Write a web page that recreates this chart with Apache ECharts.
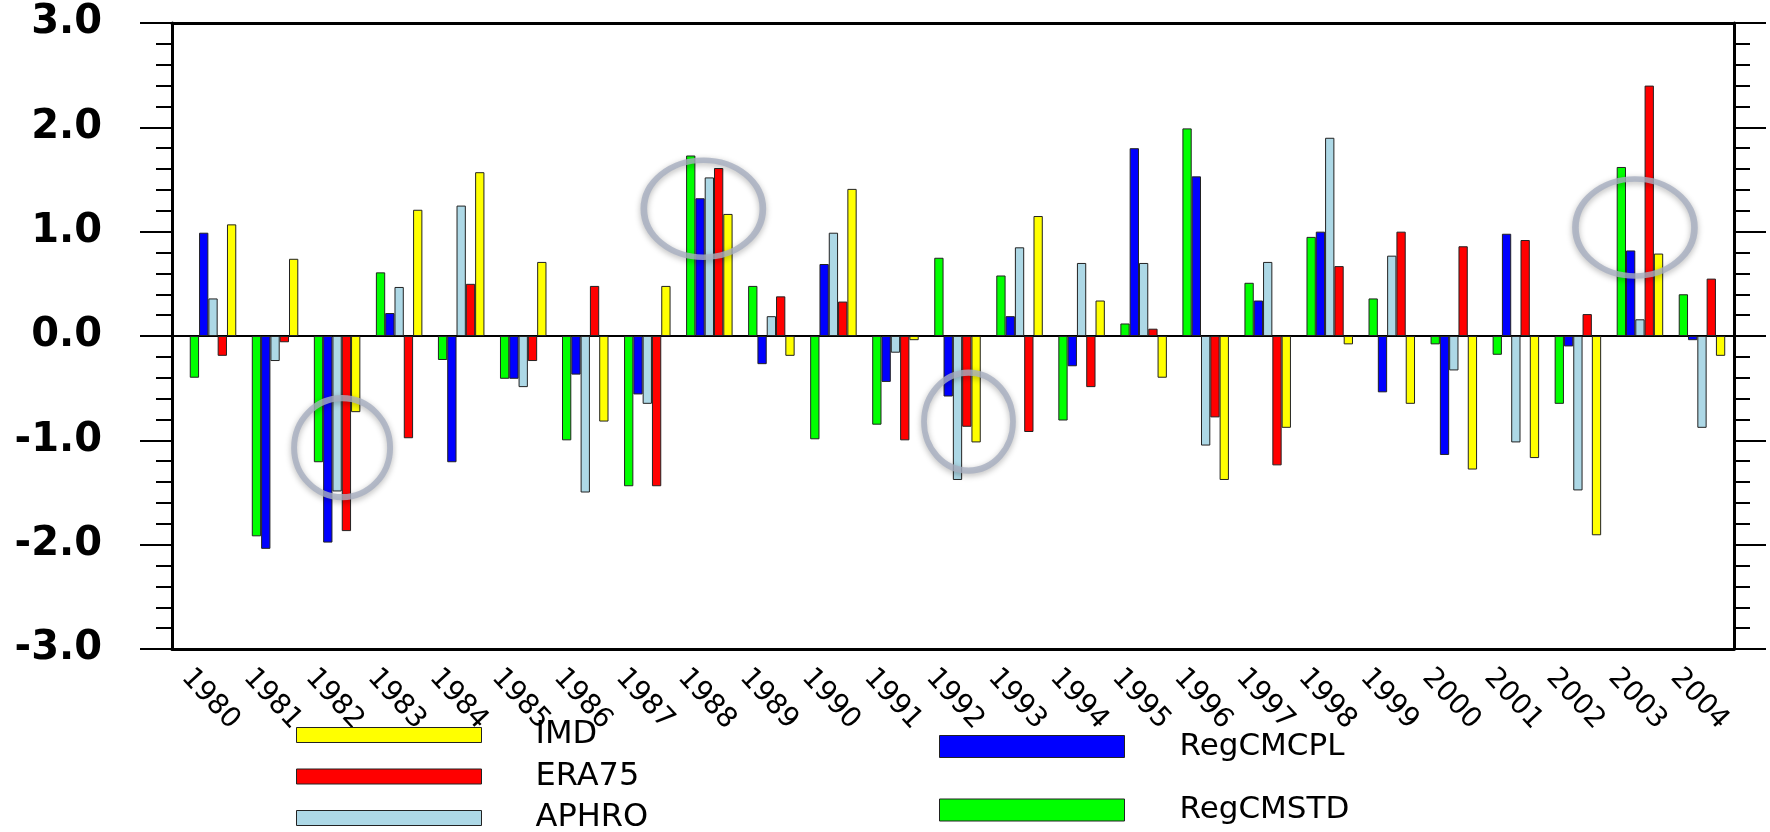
<!DOCTYPE html>
<html>
<head>
<meta charset="utf-8">
<script src="https://cdn.jsdelivr.net/npm/echarts@6/dist/echarts.min.js"></script>
<style>
  html, body { margin: 0; padding: 0; background: #fff; }
  #chart { width: 1770px; height: 832px; }
</style>
</head>
<body>
<div id="chart"></div>
<script>
// years on the category axis
const years = ['1980','1981','1982','1983','1984','1985','1986','1987','1988','1989',
  '1990','1991','1992','1993','1994','1995','1996','1997','1998','1999',
  '2000','2001','2002','2003','2004'];

// anomalies per data set
const regcmStd = [-0.40,-1.92,-1.21,0.61,-0.23,-0.41,-1.00,-1.44,1.73,0.48,
  -0.99,-0.85,0.75,0.58,-0.81,0.12,1.99,0.51,0.95,0.36,-0.08,-0.18,-0.65,1.62,0.40];
const regcmCpl = [0.99,-2.04,-1.98,0.22,-1.21,-0.41,-0.37,-0.56,1.32,-0.27,
  0.69,-0.44,-0.58,0.19,-0.29,1.80,1.53,0.34,1.00,-0.54,-1.14,0.98,-0.10,0.82,-0.04];
const aphro = [0.36,-0.24,-1.49,0.47,1.25,-0.49,-1.50,-0.65,1.52,0.19,
  0.99,-0.16,-1.38,0.85,0.70,0.70,-1.05,0.71,1.90,0.77,-0.33,-1.02,-1.48,0.16,-0.88];
const era75 = [-0.19,-0.06,-1.87,-0.98,0.50,-0.24,0.48,-1.44,1.61,0.38,
  0.33,-1.00,-0.87,-0.92,-0.49,0.07,-0.78,-1.24,0.67,1.00,0.86,0.92,0.21,2.40,0.55];
const imd = [1.07,0.74,-0.73,1.21,1.57,0.71,-0.82,0.48,1.17,-0.19,
  1.41,-0.04,-1.02,1.15,0.34,-0.40,-1.38,-0.88,-0.08,-0.65,-1.28,-1.17,-1.91,0.79,-0.19];

// highlighted years (ring centre value)
const ringYears = ['1982','1988','1992','2003'];
const ringValues = [-1.07, 1.22, -0.82, 1.04];

// y ticks
const yMin = -3, yMax = 3, yStep = 1;

const FONT = "'DejaVu Sans', sans-serif";
const gridTop = 23, gridBottom = 183;

// ring look
const ringSize = [[96,99],[119,97],[89,98],[119,97]];
const ringShift = [[5,0],[-6,0],[11,0],[-5,0]];

const chart = echarts.init(document.getElementById('chart'));

function barSeries(name, data, color) {
  return {
    name, type: 'bar', xAxisIndex: 3, yAxisIndex: 2,
    data, barWidth: 9.3, barGap: '0%',
    itemStyle: { color, borderColor: '#222', borderWidth: 1 },
  };
}

const noAxis = { axisLabel: { show: false }, axisTick: { show: false }, splitLine: { show: false } };

chart.setOption({
  backgroundColor: '#fff',
  animation: false,
  grid: [
    // frame
    { left: 172, right: 36, top: gridTop, bottom: gridBottom, containLabel: false, outerBoundsMode: 'none' },
    // bars
    { left: 182, right: 37, top: gridTop, bottom: gridBottom, containLabel: false, outerBoundsMode: 'none' },
    // year labels
    { left: 155, right: 64, top: gridTop, bottom: gridBottom, containLabel: false, outerBoundsMode: 'none' },
  ],
  xAxis: [
    { gridIndex: 0, type: 'category', data: years, position: 'bottom', ...noAxis,
      axisLine: { onZero: false, lineStyle: { color: '#000', width: 3 } } },
    { gridIndex: 0, type: 'category', data: years, position: 'top', ...noAxis,
      axisLine: { onZero: false, lineStyle: { color: '#000', width: 3 } } },
    { gridIndex: 0, type: 'category', data: years, position: 'bottom', ...noAxis,
      axisLine: { onZero: true, onZeroAxisIndex: 0, lineStyle: { color: '#000', width: 2 } } },
    { gridIndex: 1, type: 'category', data: years, show: false },
    { gridIndex: 2, type: 'category', data: years, position: 'bottom',
      axisLine: { show: false }, axisTick: { show: false }, splitLine: { show: false },
      axisLabel: { interval: 0, rotate: -47, margin: 24, fontSize: 28, color: '#000', fontFamily: FONT } },
  ],
  yAxis: [
    { gridIndex: 0, type: 'value', min: yMin, max: yMax, interval: yStep, position: 'left',
      axisLine: { show: true, onZero: false, lineStyle: { color: '#000', width: 3 } },
      axisTick: { show: true, length: 32, lineStyle: { color: '#000', width: 2 } },
      minorTick: { show: true, splitNumber: 5, length: 16, lineStyle: { color: '#000', width: 2 } },
      splitLine: { show: false },
      axisLabel: { margin: 70, fontSize: 40, fontWeight: 'bold', color: '#000', fontFamily: FONT,
        formatter: v => v.toFixed(1) } },
    { gridIndex: 0, type: 'value', min: yMin, max: yMax, interval: yStep, position: 'right',
      axisLine: { show: true, onZero: false, lineStyle: { color: '#000', width: 3 } },
      axisTick: { show: true, length: 32, lineStyle: { color: '#000', width: 2 } },
      minorTick: { show: true, splitNumber: 5, length: 16, lineStyle: { color: '#000', width: 2 } },
      splitLine: { show: false }, axisLabel: { show: false } },
    { gridIndex: 1, type: 'value', min: yMin, max: yMax, interval: yStep, show: false },
    { gridIndex: 2, type: 'value', min: yMin, max: yMax, interval: yStep, show: false },
  ],
  legend: [
    {
      data: ['IMD', 'ERA75', 'APHRO'], orient: 'vertical', left: 296, top: 719, height: 200, padding: 0,
      itemWidth: 185, itemHeight: 15, itemGap: 9.5, icon: 'rect', selectedMode: false,
      itemStyle: { borderColor: '#222', borderWidth: 1 },
      textStyle: { fontSize: 32, color: '#000', fontFamily: FONT, padding: [0, 0, 0, 49] },
    },
    {
      data: ['RegCMCPL', 'RegCMSTD'], orient: 'vertical', left: 939, top: 731, height: 200, padding: 0,
      itemWidth: 185, itemHeight: 22, itemGap: 32.5, icon: 'rect', selectedMode: false,
      itemStyle: { borderColor: '#222', borderWidth: 1 },
      textStyle: { fontSize: 31, color: '#000', fontFamily: FONT, padding: [0, 0, 0, 50] },
    },
  ],
  series: [
    barSeries('RegCMSTD', regcmStd, '#00ff00'),
    barSeries('RegCMCPL', regcmCpl, '#0000ff'),
    barSeries('APHRO', aphro, '#add8e6'),
    barSeries('ERA75', era75, '#ff0000'),
    barSeries('IMD', imd, '#ffff00'),
    {
      type: 'scatter', xAxisIndex: 3, yAxisIndex: 2, z: 5, silent: true,
      data: ringYears.map((y, i) => ({
        value: [y, ringValues[i]], symbolSize: ringSize[i], symbolOffset: ringShift[i],
      })),
      symbol: 'circle',
      itemStyle: {
        color: 'rgba(0,0,0,0)', borderColor: '#a8afc0', borderWidth: 6,
        shadowBlur: 6, shadowColor: 'rgba(0,0,0,0.35)', shadowOffsetY: 2,
      },
    },
  ],
});
</script>
</body>
</html>
